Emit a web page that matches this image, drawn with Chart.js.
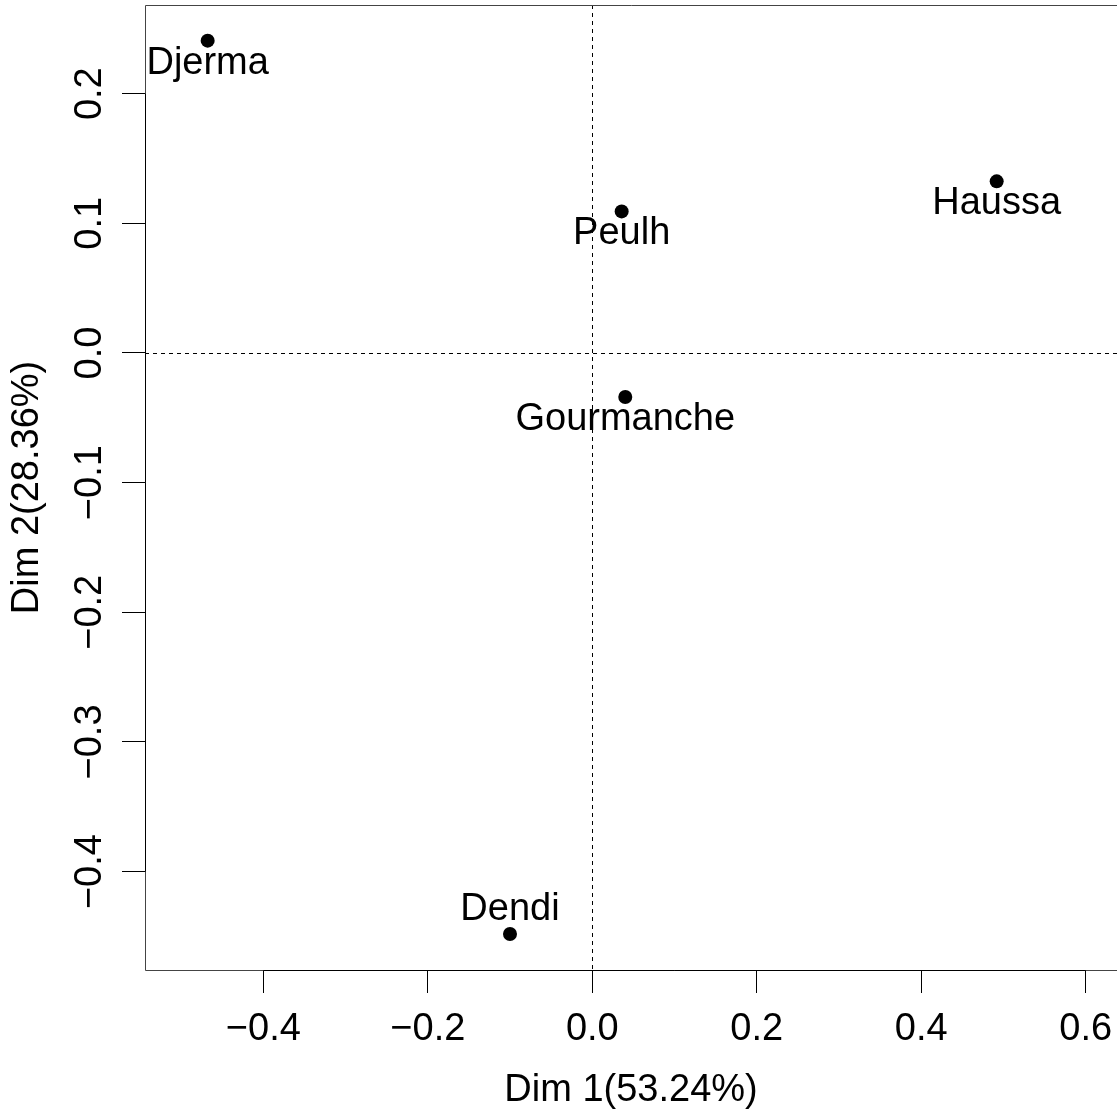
<!DOCTYPE html>
<html>
<head>
<meta charset="utf-8">
<script src="https://cdn.jsdelivr.net/npm/chart.js@4.4.1/dist/chart.umd.min.js"></script>
<style>
  html, body { margin: 0; padding: 0; background: #fff; }
  #wrap { width: 1117px; height: 1113px; }
</style>
</head>
<body>
<div id="wrap"><canvas id="c" width="1117" height="1113"></canvas></div>
<script>
// ---- data ----
const categories = ['Djerma', 'Haussa', 'Peulh', 'Gourmanche', 'Dendi'];
const dim1 = [-0.4677, 0.4917, 0.0357, 0.0401, -0.1001];
const dim2 = [0.2409, 0.1324, 0.1092, -0.0339, -0.4481];
const labelSide = ['below', 'below', 'below', 'below', 'above'];
const xTicks = [-0.4, -0.2, 0.0, 0.2, 0.4, 0.6];
const xTickLabels = ['\u22120.4', '\u22120.2', '0.0', '0.2', '0.4', '0.6'];
const yTicks = [-0.4, -0.3, -0.2, -0.1, 0.0, 0.1, 0.2];
const yTickLabels = ['\u22120.4', '\u22120.3', '\u22120.2', '\u22120.1', '0.0', '0.1', '0.2'];
const xTitle = 'Dim 1(53.24%)';
const yTitle = 'Dim 2(28.36%)';
const xRange = [-0.5439, 0.638];
const yRange = [-0.4759, 0.2684];

const FONT = '"Liberation Sans", Arial, Helvetica, sans-serif';
Chart.defaults.font.family = FONT;
Chart.defaults.color = '#000';

const rPlot = {
  id: 'rPlot',
  beforeDatasetsDraw(chart) {
    const ctx = chart.ctx, a = chart.chartArea;
    const xs = chart.scales.x, ys = chart.scales.y;
    ctx.save();
    ctx.strokeStyle = '#000';
    ctx.lineWidth = 1;
    ctx.setLineDash([4, 4]);
    const x0 = Math.round(xs.getPixelForValue(0)) + 0.5;
    const y0 = Math.round(ys.getPixelForValue(0)) + 0.5;
    ctx.beginPath();
    ctx.moveTo(x0, a.top); ctx.lineTo(x0, a.bottom);
    ctx.moveTo(a.left, y0); ctx.lineTo(a.right, y0);
    ctx.stroke();
    ctx.restore();
  },
  afterDraw(chart) {
    const ctx = chart.ctx, a = chart.chartArea;
    const xs = chart.scales.x, ys = chart.scales.y;
    ctx.save();
    // box (right side lies at the canvas edge)
    ctx.strokeStyle = '#444';
    ctx.lineWidth = 1;
    ctx.beginPath();
    ctx.moveTo(a.right + 1, a.top + 0.5);
    ctx.lineTo(a.left + 0.5, a.top + 0.5);
    ctx.lineTo(a.left + 0.5, a.bottom + 0.5);
    ctx.lineTo(a.right + 1, a.bottom + 0.5);
    ctx.stroke();
    // axis lines from first to last tick
    ctx.strokeStyle = '#000';
    ctx.beginPath();
    ctx.moveTo(xs.getPixelForValue(xTicks[0]), a.bottom + 0.5);
    ctx.lineTo(xs.getPixelForValue(xTicks[xTicks.length - 1]), a.bottom + 0.5);
    ctx.moveTo(a.left + 0.5, ys.getPixelForValue(yTicks[0]));
    ctx.lineTo(a.left + 0.5, ys.getPixelForValue(yTicks[yTicks.length - 1]));
    ctx.stroke();
    // y tick labels (rotated, R style)
    ctx.fillStyle = '#000';
    ctx.font = '38px ' + FONT;
    ctx.textAlign = 'center';
    ctx.textBaseline = 'alphabetic';
    yTicks.forEach((v, i) => {
      const y = ys.getPixelForValue(v);
      ctx.save();
      ctx.translate(101, y);
      ctx.rotate(-Math.PI / 2);
      ctx.fillText(yTickLabels[i], 0, 0);
      ctx.restore();
    });
    // point labels
    categories.forEach((name, i) => {
      const px = xs.getPixelForValue(dim1[i]);
      const py = ys.getPixelForValue(dim2[i]);
      const by = labelSide[i] === 'below' ? py + 33 : py - 14;
      ctx.fillText(name, px, by);
    });
    ctx.restore();
  }
};

new Chart(document.getElementById('c'), {
  type: 'scatter',
  data: {
    datasets: [{
      data: categories.map((c, i) => ({ x: dim1[i], y: dim2[i] })),
      pointRadius: 7,
      pointHoverRadius: 7,
      pointBackgroundColor: '#000',
      pointBorderColor: '#000',
      pointBorderWidth: 0
    }]
  },
  options: {
    responsive: false,
    animation: false,
    devicePixelRatio: 1,
    events: [],
    layout: { autoPadding: false, padding: { top: 5, left: 0, right: 0, bottom: 0 } },
    plugins: { legend: { display: false }, tooltip: { enabled: false } },
    scales: {
      x: {
        type: 'linear',
        position: 'bottom',
        min: xRange[0],
        max: xRange[1],
        afterBuildTicks: s => { s.ticks = xTicks.map(v => ({ value: v })); },
        afterFit: s => { s.height = 143; s.paddingLeft = 0; s.paddingRight = 0; s.paddingTop = 0; s.paddingBottom = 0; },
        border: { display: false },
        grid: { drawOnChartArea: false, drawTicks: true, tickLength: 23, tickColor: '#000', tickWidth: 1 },
        ticks: {
          padding: 14,
          autoSkip: false,
          maxRotation: 0,
          minRotation: 0,
          color: '#000',
          font: { size: 38, family: FONT },
          callback: (v) => xTickLabels[xTicks.indexOf(v)]
        },
        title: { display: true, text: xTitle, color: '#000', font: { size: 38, family: FONT }, padding: 0 }
      },
      y: {
        type: 'linear',
        position: 'left',
        min: yRange[0],
        max: yRange[1],
        afterBuildTicks: s => { s.ticks = yTicks.map(v => ({ value: v })); },
        afterFit: s => { s.width = 145; s.paddingLeft = 0; s.paddingRight = 0; s.paddingTop = 0; s.paddingBottom = 0; },
        border: { display: false },
        grid: { drawOnChartArea: false, drawTicks: true, tickLength: 23, tickColor: '#000', tickWidth: 1 },
        ticks: { display: false },
        title: { display: true, text: yTitle, color: '#000', font: { size: 38, family: FONT }, padding: { top: 5, bottom: 0 } }
      }
    }
  },
  plugins: [rPlot]
});
</script>
</body>
</html>
